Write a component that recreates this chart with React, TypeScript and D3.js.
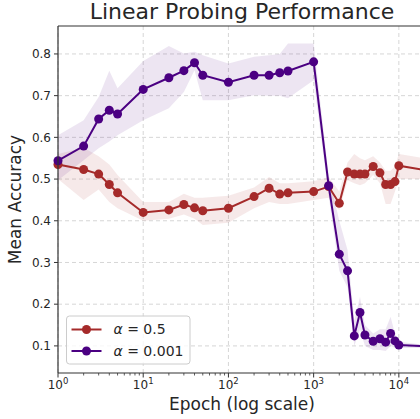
import React, { useEffect, useRef } from 'react';
import { area, line, scaleLog, scaleLinear, select } from 'd3';

// epochs (log x axis)
const epochs = [1, 2, 3, 4, 5, 10, 20, 30, 40, 50, 100, 200, 300, 400, 500, 1000, 1500, 2000, 2500, 3000, 3500, 4000, 5000, 6000, 7000, 8000, 9000, 10000, 20000];

// alpha = 0.5
const redMean = [0.535, 0.523, 0.512, 0.487, 0.467, 0.420, 0.426, 0.439, 0.431, 0.424, 0.430, 0.458, 0.478, 0.464, 0.467, 0.470, 0.482, 0.442, 0.517, 0.512, 0.512, 0.512, 0.530, 0.515, 0.487, 0.487, 0.494, 0.532, 0.522];
const redLow = [0.50, 0.45, 0.475, 0.445, 0.43, 0.40, 0.405, 0.415, 0.405, 0.39, 0.395, 0.43, 0.445, 0.44, 0.44, 0.45, 0.455, 0.425, 0.497, 0.49, 0.485, 0.49, 0.51, 0.49, 0.44, 0.44, 0.47, 0.50, 0.50];
const redHigh = [0.56, 0.575, 0.555, 0.535, 0.51, 0.445, 0.445, 0.465, 0.455, 0.455, 0.46, 0.48, 0.505, 0.49, 0.49, 0.495, 0.505, 0.47, 0.54, 0.56, 0.55, 0.545, 0.555, 0.54, 0.52, 0.52, 0.53, 0.56, 0.55];

// alpha = 0.001
const purpleMean = [0.544, 0.579, 0.644, 0.665, 0.656, 0.715, 0.743, 0.760, 0.779, 0.749, 0.732, 0.749, 0.749, 0.755, 0.759, 0.781, 0.484, 0.320, 0.280, 0.124, 0.180, 0.126, 0.111, 0.117, 0.109, 0.130, 0.112, 0.102, 0.099];
const purpleLow = [0.497, 0.545, 0.574, 0.59, 0.605, 0.641, 0.670, 0.709, 0.761, 0.689, 0.689, 0.701, 0.70, 0.70, 0.694, 0.737, 0.46, 0.28, 0.24, 0.10, 0.14, 0.10, 0.09, 0.09, 0.088, 0.10, 0.095, 0.095, 0.095];
const purpleHigh = [0.605, 0.641, 0.697, 0.76, 0.718, 0.783, 0.819, 0.801, 0.805, 0.797, 0.777, 0.793, 0.797, 0.80, 0.825, 0.825, 0.51, 0.40, 0.33, 0.16, 0.218, 0.15, 0.13, 0.14, 0.14, 0.17, 0.13, 0.11, 0.103];

const yTicks = [0.1, 0.2, 0.3, 0.4, 0.5, 0.6, 0.7, 0.8];
const xTicks = [1, 10, 100, 1000, 10000];

const series = [
  { label: '0.5', color: '#a52a2a', mean: redMean, low: redLow, high: redHigh },
  { label: '0.001', color: '#4b0082', mean: purpleMean, low: purpleLow, high: purpleHigh },
];

const W = 420, H = 419;
const margin = { top: 26, left: 58, bottom: 46 };
const plotRight = 424.5;

export default function App() {
  const svgRef = useRef<SVGSVGElement>(null);

  useEffect(() => {
    document.body.style.margin = '0';
    const svg = select(svgRef.current);
    svg.selectAll('*').remove();

    const x = scaleLog().domain([1, 20000]).range([margin.left, plotRight]);
    const y = scaleLinear().domain([0.035, 0.867]).range([H - margin.bottom, margin.top]);
    const bottom = H - margin.bottom;
    const txt = '#262626';

    // grid
    const grid = svg.append('g');
    yTicks.forEach((t) => {
      grid.append('line').attr('x1', margin.left).attr('x2', W).attr('y1', y(t)).attr('y2', y(t))
        .attr('stroke', '#cccccc').attr('stroke-dasharray', '4,3').attr('stroke-width', 0.8);
    });
    xTicks.forEach((t) => {
      grid.append('line').attr('x1', x(t)).attr('x2', x(t)).attr('y1', margin.top).attr('y2', bottom)
        .attr('stroke', '#cccccc').attr('stroke-dasharray', '4,3').attr('stroke-width', 0.8);
    });

    // bands + lines
    series.forEach((s) => {
      const band = area<number>()
        .x((_, i) => x(epochs[i]))
        .y0((_, i) => y(s.low[i]))
        .y1((_, i) => y(s.high[i]));
      svg.append('path').attr('d', band(s.mean)).attr('fill', s.color).attr('fill-opacity', 0.1);
    });
    series.forEach((s) => {
      const ln = line<number>().x((_, i) => x(epochs[i])).y((d) => y(d));
      svg.append('path').attr('d', ln(s.mean)).attr('fill', 'none').attr('stroke', s.color).attr('stroke-width', 2);
      svg.append('g').selectAll('circle').data(s.mean).join('circle')
        .attr('cx', (_, i) => x(epochs[i])).attr('cy', (d) => y(d)).attr('r', 4.5).attr('fill', s.color);
    });

    // spines
    svg.append('line').attr('x1', margin.left).attr('x2', margin.left).attr('y1', margin.top).attr('y2', bottom).attr('stroke', '#333').attr('stroke-width', 1.2);
    svg.append('line').attr('x1', margin.left).attr('x2', W).attr('y1', bottom).attr('y2', bottom).attr('stroke', '#333').attr('stroke-width', 1.2);
    svg.append('line').attr('x1', margin.left).attr('x2', W).attr('y1', margin.top).attr('y2', margin.top).attr('stroke', '#333').attr('stroke-width', 1.2);

    // y ticks
    yTicks.forEach((t) => {
      svg.append('line').attr('x1', margin.left - 4).attr('x2', margin.left).attr('y1', y(t)).attr('y2', y(t)).attr('stroke', '#333');
      svg.append('text').attr('x', margin.left - 7).attr('y', y(t)).attr('dy', '0.35em').attr('text-anchor', 'end')
        .attr('font-size', 12).attr('fill', txt).text(t.toFixed(1));
    });

    // x ticks, major + minor
    for (let d = 0; d < 5; d++) {
      for (let m = 2; m < 10; m++) {
        const v = m * Math.pow(10, d);
        if (v > 20000) continue;
        svg.append('line').attr('x1', x(v)).attr('x2', x(v)).attr('y1', bottom).attr('y2', bottom + 2.5).attr('stroke', '#333').attr('stroke-width', 0.8);
      }
    }
    xTicks.forEach((t, i) => {
      svg.append('line').attr('x1', x(t)).attr('x2', x(t)).attr('y1', bottom).attr('y2', bottom + 4.5).attr('stroke', '#333');
      const lbl = svg.append('text').attr('x', x(t)).attr('y', bottom + 16).attr('text-anchor', 'middle')
        .attr('font-size', 12).attr('fill', txt);
      lbl.append('tspan').text('10');
      lbl.append('tspan').attr('dy', -5).attr('font-size', 8.5).text(String(i));
    });

    // labels
    svg.append('text').attr('x', (margin.left + 426) / 2).attr('y', 19).attr('text-anchor', 'middle')
      .attr('font-size', 22).attr('fill', txt).text('Linear Probing Performance');
    svg.append('text').attr('x', (margin.left + 426) / 2).attr('y', 410).attr('text-anchor', 'middle')
      .attr('font-size', 17).attr('fill', txt).text('Epoch (log scale)');
    svg.append('text').attr('transform', `translate(21, ${(margin.top + bottom) / 2}) rotate(-90)`).attr('text-anchor', 'middle')
      .attr('font-size', 17).attr('fill', txt).text('Mean Accuracy');

    // legend
    const lg = svg.append('g').attr('transform', 'translate(66.5, 316)');
    lg.append('rect').attr('width', 123.5).attr('height', 48).attr('rx', 3).attr('fill', 'white').attr('fill-opacity', 0.8)
      .attr('stroke', '#cccccc').attr('stroke-width', 1);
    series.forEach((s, i) => {
      const ry = 13.5 + i * 21.5;
      lg.append('line').attr('x1', 5).attr('x2', 35).attr('y1', ry).attr('y2', ry).attr('stroke', s.color).attr('stroke-width', 2);
      lg.append('circle').attr('cx', 20).attr('cy', ry).attr('r', 4.5).attr('fill', s.color);
      const t = lg.append('text').attr('x', 47).attr('y', ry).attr('dy', '0.35em').attr('font-size', 14).attr('fill', txt);
      t.append('tspan').attr('font-style', 'italic').text('α');
      t.append('tspan').text(' = ' + s.label);
    });
  }, []);

  return (
    <svg ref={svgRef} width={W} height={H} style={{ display: 'block', fontFamily: 'DejaVu Sans', background: 'white' }} />
  );
}
